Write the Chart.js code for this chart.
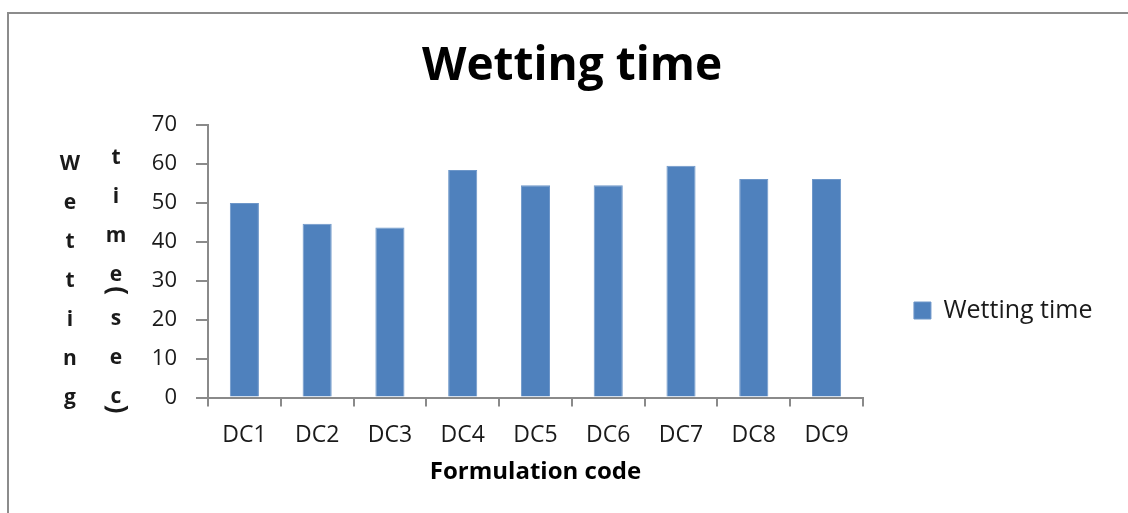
<!DOCTYPE html>
<html>
<head>
<meta charset="utf-8">
<script src="https://cdn.jsdelivr.net/npm/chart.js@4.4.0/dist/chart.umd.min.js"></script>
<style>
  html, body { margin: 0; padding: 0; background: #fff; }
  #wrap { width: 1128px; height: 513px; position: relative; }
</style>
</head>
<body>
<div id="wrap"><canvas id="myChart"></canvas></div>
<script>
const categories = ['DC1', 'DC2', 'DC3', 'DC4', 'DC5', 'DC6', 'DC7', 'DC8', 'DC9']
const wettingTime = [50, 44.7, 43.7, 58.5, 54.6, 54.6, 59.6, 56.2, 56.2]
const yTicks = [0, 10, 20, 30, 40, 50, 60, 70]
const seriesName = 'Wetting time'
const chartTitle = 'Wetting time'
const xTitle = 'Formulation code'
const yTitleCols = ['Wetting', 'time(sec)']

const axisGray = '#8a8a8a'
const textColor = '#1a1a1a'

// outer frame, only top and left edges show in the picture
const framePlugin = {
  id: 'frame',
  beforeDraw(chart) {
    const ctx = chart.ctx
    ctx.save()
    ctx.strokeStyle = '#8c8c8c'
    ctx.lineWidth = 2
    ctx.beginPath()
    ctx.moveTo(8, chart.height)
    ctx.lineTo(8, 13)
    ctx.lineTo(chart.width, 13)
    ctx.stroke()
    ctx.restore()
  }
}

// y title is drawn as stacked letters in two columns, like the original
const yTitlePlugin = {
  id: 'yTitleStack',
  afterDraw(chart) {
    const ctx = chart.ctx
    const y = chart.scales.y
    const left = chart.chartArea.left
    ctx.save()
    ctx.fillStyle = textColor
    ctx.font = 'bold 21px "Open Sans"'
    ctx.textAlign = 'center'
    ctx.textBaseline = 'middle'

    const colA = yTitleCols[0].split('')
    colA.forEach((ch, i) => {
      ctx.fillText(ch, left - 138, y.getPixelForValue(60 - i * 10))
    })

    const colB = yTitleCols[1].split('')
    let row = 0
    colB.forEach(ch => {
      const x = left - 92
      if (ch === '(' || ch === ')') {
        // brackets lie on their side in the original
        const py = ch === '(' ? y.getPixelForValue(60 - (row - 0.75) * 10) : y.getPixelForValue(60 - (row - 0.7) * 10)
        ctx.save()
        ctx.font = 'bold 26px "Open Sans"'
        ctx.translate(x, py)
        ctx.rotate(Math.PI / 2)
        ctx.fillText(ch, 0, 0)
        ctx.restore()
        return
      }
      const shift = row < 4 ? -6 : -1
      ctx.fillText(ch, x, y.getPixelForValue(60 - row * 10) + shift)
      row++
    })
    ctx.restore()
  }
}

const ctx = document.getElementById('myChart')
new Chart(ctx, {
  type: 'bar',
  data: {
    labels: categories,
    datasets: [
      {
        label: seriesName,
        data: wettingTime,
        backgroundColor: '#4F81BD',
        borderColor: '#6e97c9',
        borderWidth: 1,
        barPercentage: 0.4,
        categoryPercentage: 1
      }
    ]
  },
  options: {
    responsive: true,
    maintainAspectRatio: false,
    animation: false,
    layout: {
      padding: { left: 41.5, right: 25.5, top: 14, bottom: 26 }
    },
    plugins: {
      title: {
        display: true,
        text: chartTitle,
        color: '#000',
        font: { family: 'Open Sans', size: 46, weight: 'bold' },
        padding: { top: 25, bottom: 31 }
      },
      legend: {
        position: 'right',
        title: {
          display: true,
          text: ' ',
          font: { size: 10 },
          padding: { top: 108, bottom: 0 }
        },
        labels: {
          boxWidth: 17,
          boxHeight: 17,
          padding: 51,
          color: textColor,
          font: { family: 'Open Sans', size: 25 }
        }
      },
      tooltip: { enabled: false }
    },
    scales: {
      x: {
        grid: {
          display: true,
          drawOnChartArea: false,
          offset: true,
          tickLength: 9,
          color: axisGray,
          lineWidth: 2
        },
        border: { color: axisGray, width: 2 },
        ticks: {
          color: textColor,
          padding: 15,
          font: { family: 'Open Sans', size: 23 }
        },
        title: {
          display: true,
          text: xTitle,
          color: '#000',
          font: { family: 'Open Sans', size: 24, weight: 'bold' },
          padding: { top: -6, bottom: 0 }
        }
      },
      y: {
        min: 0,
        max: 70,
        afterBuildTicks(scale) {
          scale.ticks = yTicks.map(v => ({ value: v }))
        },
        afterFit(scale) {
          scale.width = 166.5
        },
        grid: {
          display: true,
          drawOnChartArea: false,
          tickLength: 12,
          color: axisGray,
          lineWidth: 2
        },
        border: { color: axisGray, width: 2 },
        ticks: {
          color: textColor,
          padding: 19,
          font: { family: 'Open Sans', size: 22 }
        }
      }
    }
  },
  plugins: [framePlugin, yTitlePlugin]
})
</script>
</body>
</html>
